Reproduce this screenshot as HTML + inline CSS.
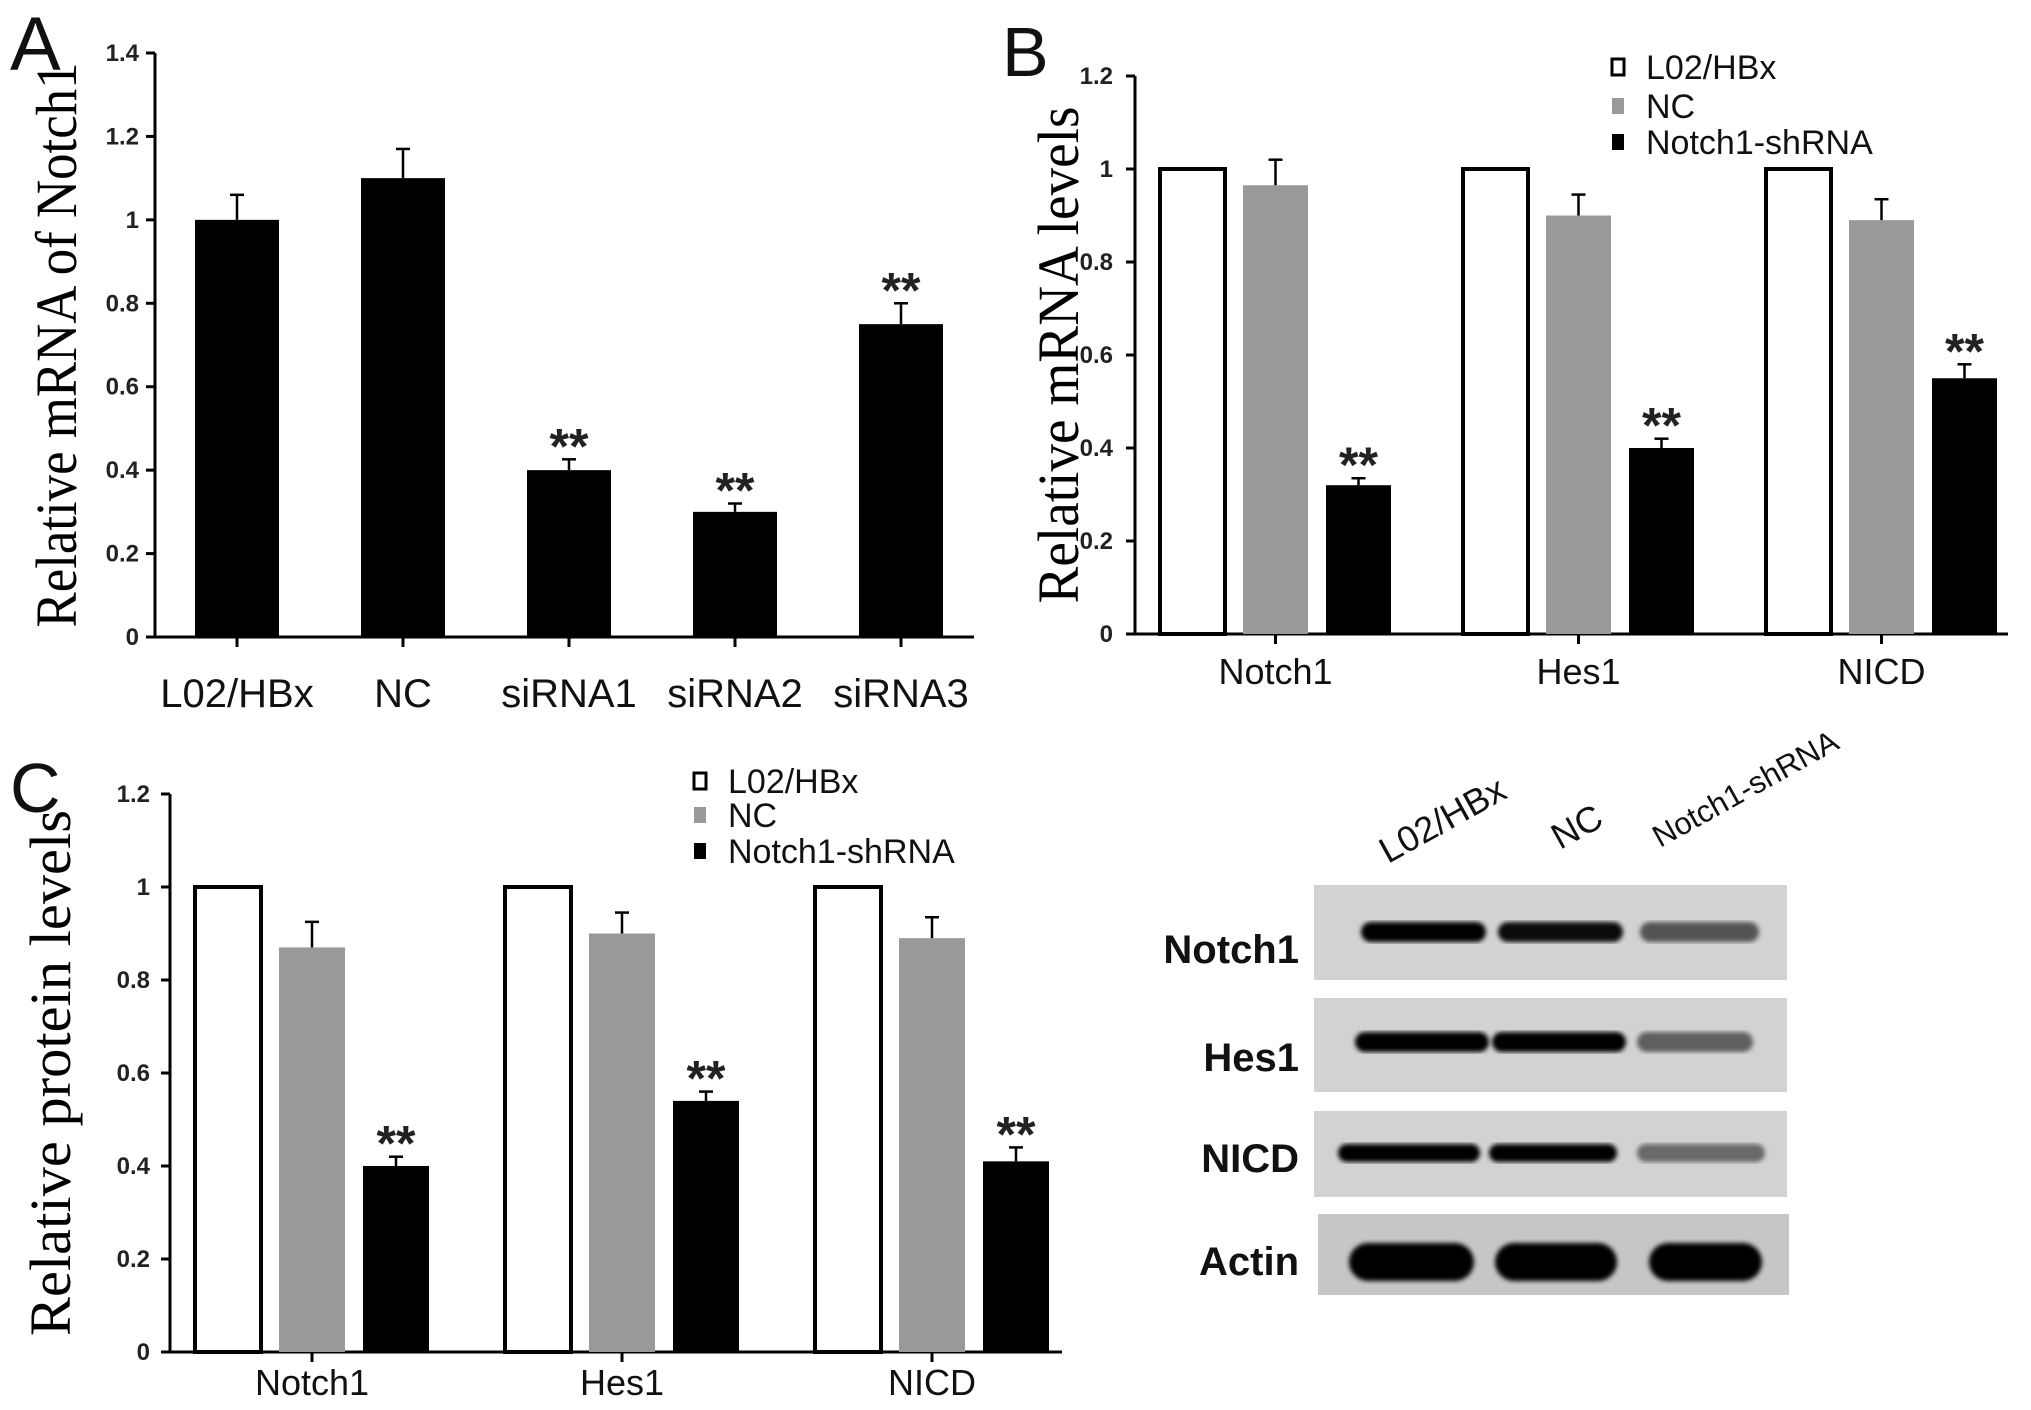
<!DOCTYPE html>
<html><head><meta charset="utf-8"><style>
html,body{margin:0;padding:0;background:#fff;overflow:hidden;}
svg{display:block;}
text{font-family:"Liberation Sans",sans-serif;}
</style></head><body>
<svg id="fig" width="2031" height="1410" viewBox="0 0 2031 1410" xmlns="http://www.w3.org/2000/svg">
<defs><filter id="blur"><feGaussianBlur stdDeviation="2.5"/></filter></defs>
</svg>
<script>
// Panel A data
const catsA = ["L02/HBx","NC","siRNA1","siRNA2","siRNA3"];
const valsA = [1.0,1.1,0.4,0.3,0.75];
const errA = [0.06,0.07,0.026,0.02,0.05];
const sigA = ["","","**","**","**"];
const ticksA = ["0","0.2","0.4","0.6","0.8","1","1.2","1.4"];
// Panel B data
const groupsB = ["Notch1","Hes1","NICD"];
const seriesNames = ["L02/HBx","NC","Notch1-shRNA"];
const b_L02 = [1,1,1];
const b_NC = [0.965,0.9,0.89];
const b_sh = [0.32,0.4,0.55];
const bErr_NC = [0.055,0.045,0.045];
const bErr_sh = [0.015,0.02,0.03];
const ticksB = ["0","0.2","0.4","0.6","0.8","1","1.2"];
// Panel C data
const groupsC = ["Notch1","Hes1","NICD"];
const c_L02 = [1,1,1];
const c_NC = [0.87,0.9,0.89];
const c_sh = [0.4,0.54,0.41];
const cErr_NC = [0.055,0.045,0.045];
const cErr_sh = [0.02,0.02,0.03];
const ticksC = ["0","0.2","0.4","0.6","0.8","1","1.2"];

const svg = document.getElementById('fig');
const NS = "http://www.w3.org/2000/svg";
function mk(tag, attrs, parent){const e=document.createElementNS(NS,tag);for(const k in attrs)e.setAttribute(k,attrs[k]);(parent||svg).appendChild(e);return e;}
function txt(s, attrs, parent){const e=mk('text',attrs,parent);e.textContent=s;return e;}

function axes(g, x0, x1, yTop, yBot, vmax, ticks, title, titleX, titleLen, tickRight){
  const y = v => yBot - (v/vmax)*(yBot-yTop);
  const ax = mk('line',{x1:x0,y1:yTop,x2:x0,y2:yBot,stroke:'#000','stroke-width':3},g);
  
  
  const xa = mk('line',{x1:x0-9,y1:yBot,x2:x1,y2:yBot,stroke:'#000','stroke-width':3},g);
  
  
  ticks.forEach((t,i)=>{
    const v = i*(vmax/(ticks.length-1));
    const yy = y(v);
    mk('line',{x1:x0-9,y1:yy,x2:x0,y2:yy,stroke:'#000','stroke-width':3},g);
    const tl = txt(t,{x:tickRight,y:yy+8,'text-anchor':'end','font-size':24,'font-weight':'bold',fill:'#222'},g);
    
    
  });
  const ty = (yTop+yBot)/2;
  const tt = txt(title,{x:0,y:0,transform:`translate(${titleX},${ty}) rotate(-90)`,'text-anchor':'middle','font-size':58,textLength:titleLen,lengthAdjust:'spacingAndGlyphs',style:'font-family:"Liberation Serif",serif'},g);
  
  
  return y;
}
function errbar(g, cx, top, yv){
  mk('line',{x1:cx,y1:yv,x2:cx,y2:top,stroke:'#000','stroke-width':2.5},g);
  mk('line',{x1:cx-7,y1:top,x2:cx+7,y2:top,stroke:'#000','stroke-width':2.5},g);
}
function stars(g,cx,top,s){
  if(!s) return;
  const st = txt(s,{x:cx,y:top+4,'text-anchor':'middle','font-size':50,'font-weight':'bold',fill:'#222'},g);
  
  
}

// ---------- Panel A ----------
const gA = mk('g',{});


const pa = txt('A',{x:10,y:70,'font-size':76,fill:'#111'},gA);


const yA = axes(gA,155,974,53,637,1.4,ticksA,'Relative mRNA of Notch1',76,565,139);
catsA.forEach((c,i)=>{
  const cx = 237 + i*166;
  const r = mk('rect',{x:cx-42,y:yA(valsA[i]),width:84,height:637-yA(valsA[i]),fill:'#000'},gA);
  
  
  const top = yA(valsA[i]+errA[i]);
  errbar(gA,cx,top,yA(valsA[i]));
  stars(gA,cx,top,sigA[i]);
  mk('line',{x1:cx,y1:637,x2:cx,y2:647,stroke:'#000','stroke-width':3},gA);
  const l = txt(c,{x:cx,y:707,'text-anchor':'middle','font-size':40,fill:'#111'},gA);
  
  
});

// ---------- grouped panels ----------
function grouped(g, groups, s1, s2, s3, e2, e3, y, base, startX, step, bw, gap, labelY){
  groups.forEach((grp,i)=>{
    const gx = startX + i*step;
    const vals=[s1[i],s2[i],s3[i]];
    const fills=['#fff','#999','#000'];
    vals.forEach((v,k)=>{
      const bx = gx + k*(bw+gap);
      const r = mk('rect',{x:bx,y:y(v),width:bw,height:base-y(v),fill:fills[k],stroke:k==0?'#000':'none','stroke-width':k==0?4:0},g);
      
      
    });
    const cx2 = gx + (bw+gap) + bw/2, cx3 = gx + 2*(bw+gap) + bw/2;
    const t2 = y(s2[i]+e2[i]); errbar(g,cx2,t2,y(s2[i]));
    const t3 = y(s3[i]+e3[i]); errbar(g,cx3,t3,y(s3[i]));
    stars(g,cx3,t3,'**');
    const c = gx + (3*bw+2*gap)/2;
    mk('line',{x1:c,y1:base,x2:c,y2:base+10,stroke:'#000','stroke-width':3},g);
    const l = txt(grp,{x:c,y:labelY,'text-anchor':'middle','font-size':36,fill:'#111'},g);
    
    
  });
}
function legend(g, x, ys){
  const fills=['#fff','#999','#000'];
  seriesNames.forEach((n,k)=>{
    const e = mk('g',{},g);
    
    
    mk('rect',{x:x,y:ys[k]-8,width:12,height:16,fill:fills[k],stroke:k==0?'#000':'none','stroke-width':3},e);
    txt(n,{x:x+34,y:ys[k]+12,'font-size':34,fill:'#111'},e);
  });
}

// ---------- Panel B ----------
const gB = mk('g',{});


const pb = txt('B',{x:1002,y:76,'font-size':70,fill:'#111'},gB);


const yB = axes(gB,1135,2008,76,634,1.2,ticksB,'Relative mRNA levels',1078,497,1113);
grouped(gB,groupsB,b_L02,b_NC,b_sh,bErr_NC,bErr_sh,yB,634,1160,303,65,18,684);
legend(gB,1612,[67,106,142]);

// ---------- Panel C ----------
const gC = mk('g',{});


const pc = txt('C',{x:10,y:812,'font-size':70,fill:'#111'},gC);


const yC = axes(gC,170,1062,794,1352,1.2,ticksC,'Relative protein levels',70,526,150);
grouped(gC,groupsC,c_L02,c_NC,c_sh,cErr_NC,cErr_sh,yC,1352,195,310,66,18,1395);
legend(gC,694,[781,815,851]);

// ---------- Western blot ----------
const gW = mk('g',{});


const rowsW = ["Notch1","Hes1","NICD","Actin"];
const boxesY = [[885,980],[998,1092],[1111,1197],[1214,1295]];
const bandY = [932,1042,1153,1262];
const bandH = [20,20,18,38];
const labelY = [948,1056,1157,1260];
const bands = [
 [[1361,1486,1],[1498,1623,0.95],[1640,1759,0.6]],
 [[1355,1489,1],[1492,1626,1],[1637,1753,0.55]],
 [[1338,1480,1],[1489,1617,1],[1637,1765,0.5]],
 [[1349,1474,1],[1495,1617,1],[1649,1762,1]]
];
rowsW.forEach((r,i)=>{
  const box = mk('rect',{x:i==3?1318:1314,y:boxesY[i][0],width:i==3?471:473,height:boxesY[i][1]-boxesY[i][0],fill:i==3?'#c6c6c6':'#d2d2d2'},gW);
  
  
  bands[i].forEach(b=>{
    const e = mk('rect',{x:b[0],y:bandY[i]-bandH[i]/2,width:b[1]-b[0],height:bandH[i],rx:bandH[i]/2,fill:'#000','fill-opacity':b[2],filter:'url(#blur)'},gW);
    
    
  });
  const l = txt(r,{x:1299,y:labelY[i]+15,'text-anchor':'end','font-size':40,'font-weight':'bold',fill:'#111'},gW);
  
  
});
const lanes = [["L02/HBx",1388,864,36],["NC",1560,850,36],["Notch1-shRNA",1660,848,31]];
lanes.forEach(l=>{
  const t = txt(l[0],{x:0,y:0,'font-size':l[3],fill:'#111',transform:`translate(${l[1]},${l[2]}) rotate(-29)`},gW);
  
  
});
</script>
</body></html>
